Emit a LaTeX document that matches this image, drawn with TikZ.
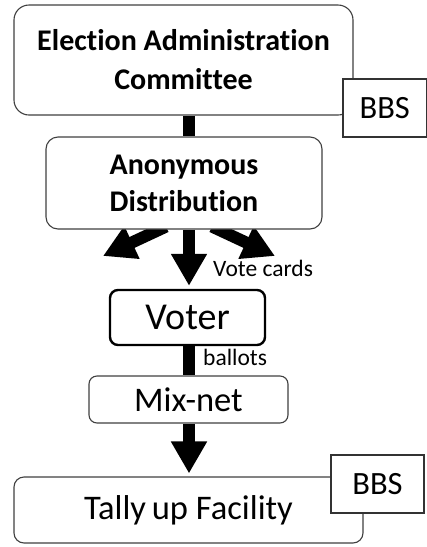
\documentclass[tikz,border=0pt]{standalone}
\usepackage{fontspec}
\setmainfont{Carlito}[Ligatures=NoCommon]
\usetikzlibrary{arrows.meta,calc,backgrounds}
\begin{document}
\begin{tikzpicture}[x=1pt,y=-1pt,
  box/.style={draw=black!75,line width=1.1pt,fill=white,rounded corners=#1,inner sep=0pt,align=center},
  box/.default=12pt,
  bbsbox/.style={draw=black!80,line width=1.1pt,fill=white,inner sep=0pt},
  fat/.style={line width=12pt,draw=black},
  fatarrow/.style={fat,-{Triangle[width=34pt,length=32pt]}},
  small/.style={font=\fontsize{23.5}{26}\selectfont,anchor=west,inner sep=0pt}
]
\useasboundingbox (0,0) rectangle (427,547);
\coordinate (axis) at (189,0);
% boxes
\node[box=15pt,minimum width=339pt,minimum height=110pt,font=\bfseries\fontsize{30}{39}\selectfont] (eac) at (183.5,60) {Election Administration\\Committee};
\node[bbsbox,minimum width=83.5pt,minimum height=58pt,font=\fontsize{32.5}{36}\selectfont] (bbs1) at (384.75,108) {BBS};
\node[box=12pt,minimum width=276pt,minimum height=92pt,font=\bfseries\fontsize{30}{37}\selectfont] (dist) at (184,183) {Anonymous\\Distribution};
\node[box=8pt,draw=black,line width=2.4pt,minimum width=155pt,minimum height=55pt,font=\fontsize{38}{42}\selectfont] (voter) at (187.5,317.5) {Voter};
\node[box=8pt,minimum width=199pt,minimum height=47pt,font=\fontsize{34.5}{38}\selectfont] (mix) at (188.5,399.5) {Mix-net};
\node[box=10pt,minimum width=349pt,minimum height=66pt,font=\fontsize{34.5}{38}\selectfont] (tally) at (188.5,510) {Tally\hspace{-2pt} up Facility};
\node[bbsbox,minimum width=93pt,minimum height=58pt,font=\fontsize{32.5}{36}\selectfont] (bbs2) at (377.5,484) {BBS};
% labels
\node[small] (vc) at (213,268) {Vote cards};
\node[small] (bl) at (203,357) {ballots};
% connectors
\coordinate (ltip) at (103,256);
\coordinate (rtip) at (275,256);
\coordinate (lstart) at ($(dist.south)+(-18,-3)$);
\coordinate (rstart) at ($(dist.south)+(28,-3)$);
\begin{scope}[on background layer]
\draw[fat] (eac.south -| axis) -- (dist.north -| axis);
\draw[fatarrow] (lstart) -- (ltip);
\draw[fatarrow] (rstart) -- (rtip);
\draw[fatarrow] (dist.south -| axis) -- ($(voter.north -| axis)+(0,-3)$);
\draw[fat] (voter.south -| axis) -- (mix.north -| axis);
\draw[fatarrow] (mix.south -| axis) -- ($(tally.north -| axis)+(0,-3)$);
\end{scope}
\end{tikzpicture}
\end{document}
